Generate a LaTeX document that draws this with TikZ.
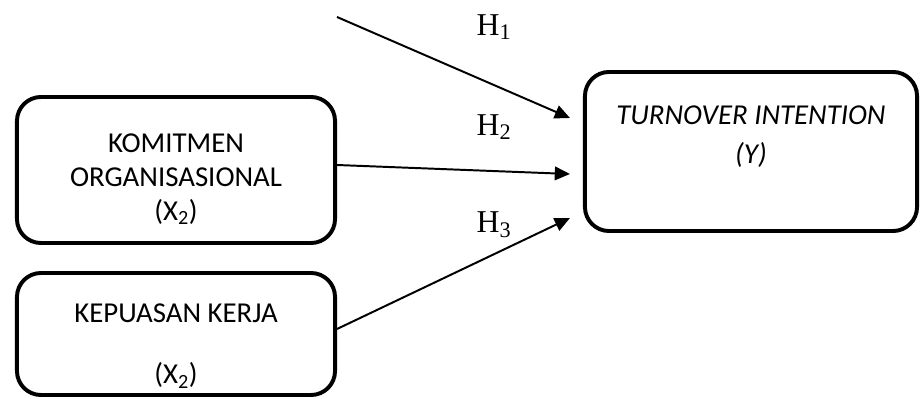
\documentclass[tikz,border=0pt]{standalone}
\usepackage{fontspec}
\setmainfont{Carlito}
\newfontfamily\hfont{Liberation Serif}
\usetikzlibrary{arrows.meta,calc}

\begin{document}
\begin{tikzpicture}[x=0.025cm,y=-0.025cm,
    box/.style={rectangle,draw,line width=2.8pt,rounded corners=0.6cm,align=center,
                font=\fontsize{20.5}{24.2}\selectfont},
    hyp/.style={font=\hfont\fontsize{22.6}{26}\selectfont},
    arr/.style={line width=1.4pt,-{Triangle[length=0.38cm,width=0.34cm]}}]
    \useasboundingbox (0,0) rectangle (920,399);

    % Independent variables
    \node[box,minimum width=7.95cm,minimum height=3.65cm,text height=74.5pt] (kom) at (176,170)
        {KOMITMEN\\ORGANISASIONAL\\(X\textsubscript{2})};
    \node[box,minimum width=7.95cm,minimum height=3.05cm,text height=74pt] (kep) at (176,334)
        {KEPUASAN KERJA\\[19.5pt](X\textsubscript{2})};

    % Dependent variable
    \node[box,minimum width=8.3cm,minimum height=3.975cm,text depth=0.85cm] (turn) at (751,151.5)
        {\textit{TURNOVER INTENTION}\\[4pt]\textit{(Y)}};

    % Hypotheses
    \coordinate (src) at (337,17);
    \draw[arr] (src) -- ($(turn.west)+(-13,-33.5)$);
    \draw[arr] ($(kom.east)+(0,-5)$) -- ($(turn.west)+(-13,22.5)$);
    \draw[arr] ($(kep.east)+(0,-5)$) -- ($(turn.west)+(-13,66.5)$);

    % Labels
    \node[hyp] (h1) at (494,27) {H\textsubscript{1}};
    \node[hyp] (h2) at (494,127) {H\textsubscript{2}};
    \node[hyp] (h3) at (494,225) {H\textsubscript{3}};
\end{tikzpicture}
\end{document}
